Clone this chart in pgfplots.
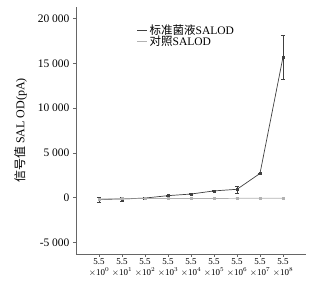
\documentclass[border=0pt]{standalone}
\usepackage{pgfplots}
\pgfplotsset{compat=1.18}
\usepackage{fontspec}
\setmainfont{Liberation Serif}
\newfontfamily\cjk{Noto Sans CJK SC}
\definecolor{darkline}{gray}{0.25}
\definecolor{lightline}{gray}{0.7}
\begin{document}
\begin{tikzpicture}
\begin{axis}[
  scale only axis, width=230pt, height=247pt,
  axis lines*=left,
  axis line style={gray!80!black, line width=0.8pt},
  xmin=-1, xmax=9, ymin=-6300, ymax=21300,
  xtick={0,1,2,3,4,5,6,7,8},
  xticklabels={5.5\\$\times$10$^{0}$,5.5\\$\times$10$^{1}$,5.5\\$\times$10$^{2}$,5.5\\$\times$10$^{3}$,5.5\\$\times$10$^{4}$,5.5\\$\times$10$^{5}$,5.5\\$\times$10$^{6}$,5.5\\$\times$10$^{7}$,5.5\\$\times$10$^{8}$},
  xticklabel style={align=center, font=\fontsize{9}{11}\selectfont, inner sep=1pt},
  ytick={-5000,0,5000,10000,15000,20000},
  yticklabel style={font=\fontsize{11.5}{12}\selectfont},
  /pgf/number format/assume math mode=true,
  /pgf/number format/1000 sep={\ },
  scaled y ticks=false,
  tick align=outside,
  major tick length=3pt,
  tick style={gray!80!black, line width=0.6pt},
  ylabel={{\cjk 信号值} SAL OD(pA)},
  ylabel style={font=\fontsize{12}{12}\selectfont, at={(ticklabel cs:0.5)}, yshift=4pt},
  legend style={draw=none, fill=none, at={(0.26,0.94)}, anchor=north west, font=\fontsize{11.5}{12}\selectfont, row sep=-4pt, inner sep=1pt},
  legend cell align=left,
  legend image code/.code={\draw[#1] (0pt,0pt) -- (10pt,0pt);},
]
\addplot[darkline, line width=0.7pt, mark=square*, mark size=1pt,
  error bars/.cd, y dir=both, y explicit, error bar style={line width=0.5pt}, error mark options={rotate=90, mark size=2pt}]
  table[x=x, y=y, y error=e] {
x y e
0 -200 300
1 -150 250
2 -50 150
3 220 60
4 400 60
5 750 60
6 930 400
7 2700 80
8 15700 2450
};
\addlegendentry{{\cjk 标准菌液}SALOD}
\addplot[lightline, line width=0.7pt, mark=square*, mark size=1pt]
  table[x=x, y=y] {
x y
0 -150
1 -120
2 -110
3 -100
4 -100
5 -100
6 -80
7 -80
8 -80
};
\addlegendentry{{\cjk 对照}SALOD}
\end{axis}
\pgfresetboundingbox
\path (current axis.south west) ++(-76pt,-32pt) coordinate (bl);
\path (current axis.north east) ++(10pt,7pt) coordinate (tr);
\useasboundingbox (bl) rectangle (tr);
\end{tikzpicture}
\end{document}
